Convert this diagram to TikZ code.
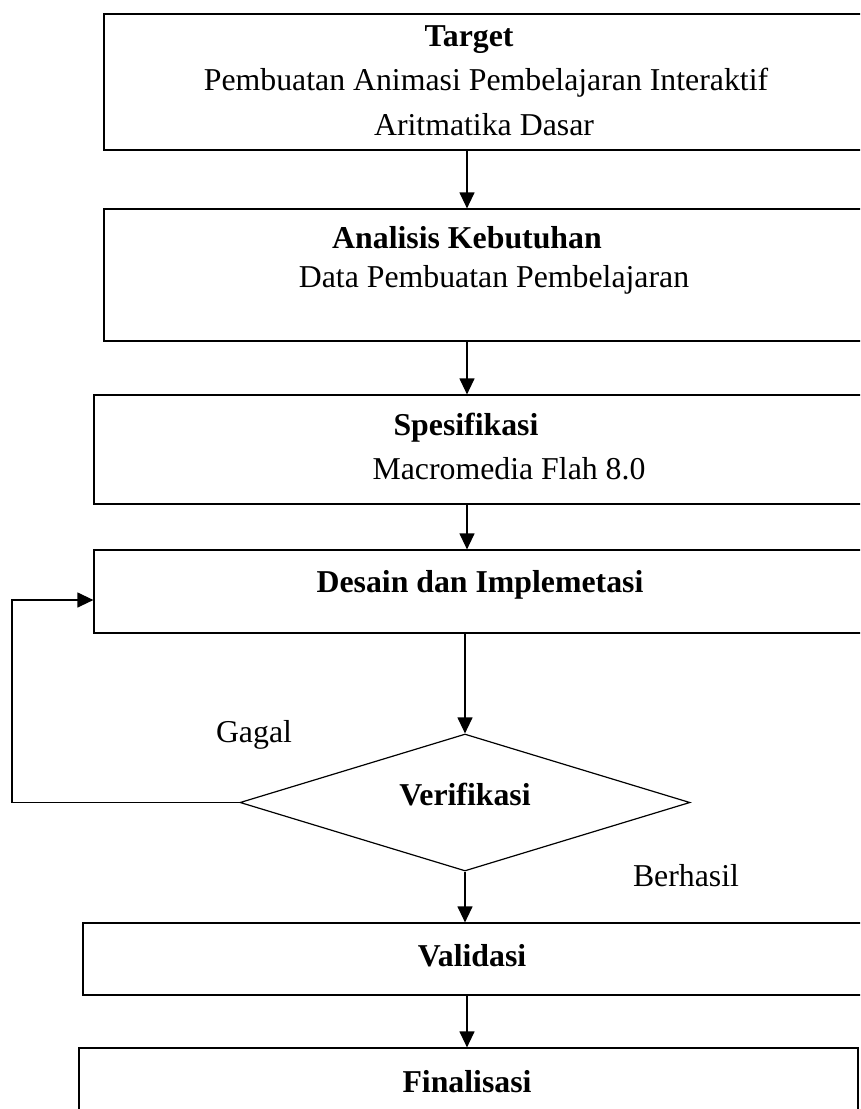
\documentclass[tikz,border=0pt]{standalone}
\usepackage{fontspec}
\setmainfont{Liberation Serif}
\usetikzlibrary{shapes.geometric, arrows.meta, positioning}

\begin{document}
\begin{tikzpicture}[x=1pt, y=-1pt,
  box/.style={draw, line width=1.2pt, inner sep=0pt},
  lbl/.style={font=\fontsize{31.8}{43}\selectfont, inner sep=0pt},
  ttl/.style={font=\fontsize{31.8}{43}\selectfont\bfseries, inner sep=0pt},
  arr/.style={-{Triangle[length=16pt,width=15pt]}, line width=1.2pt}]
  \useasboundingbox (0,0) rectangle (860,1109);
  \clip (0,0) rectangle (860,1109);

  % boxes
  \node[box, minimum width=776pt, minimum height=136pt] (target) at (492,82) {};
  \node[box, minimum width=776pt, minimum height=132pt] (analisis) at (492,275) {};
  \node[box, minimum width=786pt, minimum height=109pt] (spek) at (487,449.5) {};
  \node[box, minimum width=786pt, minimum height=83pt] (desain) at (487,591.5) {};
  \node[box, diamond, minimum width=450pt, minimum height=137pt] (verif) at (465,802.5) {};
  \node[box, minimum width=797pt, minimum height=72pt] (validasi) at (481.5,959) {};
  \node[box, minimum width=779pt, minimum height=82pt] (final) at (468.5,1089) {};

  % texts
  \node[ttl] (targetT) at (469,40) {Target};
  \node[lbl] (targetA) at (486,83) {Pembuatan Animasi Pembelajaran Interaktif};
  \node[lbl] (targetB) at (484,125) {Aritmatika Dasar};
  \node[ttl] (analisisT) at (467,238) {Analisis Kebutuhan};
  \node[lbl] (analisisA) at (494,280) {Data Pembuatan Pembelajaran};
  \node[ttl] (spekT) at (466,428) {Spesifikasi};
  \node[lbl] (spekA) at (509,469) {Macromedia Flah 8.0};
  \node[ttl] (desainT) at (480,585) {Desain dan Implemetasi};
  \node[ttl] (verifT) at (465,795) {Verifikasi};
  \node[lbl] (gagal) at (254,735) {Gagal};
  \node[lbl] (berhasil) at (686,876) {Berhasil};
  \node[ttl] (validasiT) at (472,956) {Validasi};
  \node[ttl] (finalT) at (467,1082) {Finalisasi};

  % arrows
  \coordinate (mid) at (467,0);
  \coordinate (back) at (12,600);
  \draw[arr] (target.south -| mid) -- (analisis.north -| mid);
  \draw[arr] (analisis.south -| mid) -- (spek.north -| mid);
  \draw[arr] (spek.south -| mid) -- (desain.north -| mid);
  \draw[arr] (desain.south -| verif.north) -- (verif.north);
  \draw[arr] (verif.west) -| (back) -- (back -| desain.west);
  \draw[arr] (verif.south) -- (validasi.north -| verif.south);
  \draw[arr] (validasi.south -| mid) -- (final.north -| mid);
\end{tikzpicture}
\end{document}
